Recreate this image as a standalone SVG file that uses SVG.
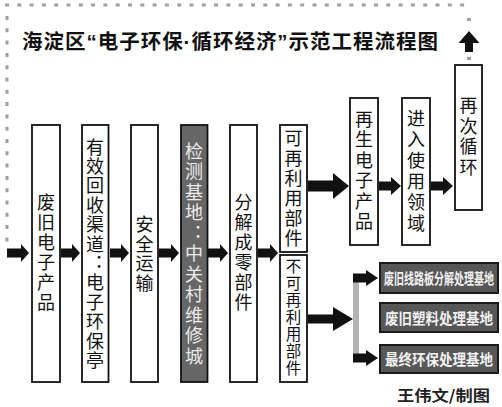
<svg xmlns="http://www.w3.org/2000/svg" width="502" height="407" viewBox="0 0 502 407">
<style>
.bx{fill:#fff;stroke:#111;stroke-width:1.8}
.dk{fill:#666;stroke:#111;stroke-width:1.8}
.db{fill:#575757;stroke:#1a1a1a;stroke-width:2}
.t{font-family:"Noto Sans CJK SC","Noto Sans CJK TC",sans-serif;font-size:18px;fill:#111;writing-mode:vertical-rl;text-orientation:upright}
.tw{fill:#ececec}
.ts{font-size:15.5px}
.dt{font-family:"Noto Sans CJK SC",sans-serif;font-weight:bold;fill:#f2f2f2;text-anchor:middle;dominant-baseline:central}
.ar{fill:#111}
.dot{stroke:#a0a0a0;stroke-width:3;fill:none;stroke-dasharray:4 8.3}
.lat{font-family:"Liberation Sans",sans-serif}
</style>
<rect width="502" height="407" fill="#fff"/>
<g id="border">
<line class="dot" x1="5" y1="5" x2="470" y2="5"/>
<line class="dot" x1="7" y1="16" x2="7" y2="242"/>
<rect x="467" y="18" width="4" height="3" fill="#a0a0a0"/>
<rect x="467" y="57" width="4" height="3" fill="#a0a0a0"/>
</g>
<text id="title" x="22" y="49" textLength="416" lengthAdjust="spacing" font-family="'Noto Sans CJK SC',sans-serif" font-size="20.5" font-weight="bold" fill="#111">海淀区<tspan class="lat">“</tspan>电子环保<tspan class="lat">·</tspan>循环经济<tspan class="lat">”</tspan>示范工程流程图</text>
<g id="n1"><rect class="bx" x="32" y="125" width="28" height="257"/>
<text class="t" x="46" y="193" letter-spacing="2">废旧电子产品</text></g>
<g id="n2"><rect class="bx" x="82" y="125" width="26.5" height="257"/>
<text class="t" x="95" y="137.7" letter-spacing="1.4">有效回收渠道︓电子环保亭</text></g>
<g id="n3"><rect class="bx" x="131" y="125" width="27" height="257"/>
<text class="t" x="144.5" y="215.5" letter-spacing="1.5">安全运输</text></g>
<g id="n4"><rect class="dk" x="181" y="125" width="26.5" height="257"/>
<text class="t tw" x="194" y="142" letter-spacing="2.5">检测基地︓中关村维修城</text></g>
<g id="n5"><rect class="bx" x="230" y="125" width="27" height="257"/>
<text class="t" x="243.5" y="193" letter-spacing="2">分解成零部件</text></g>
<g id="n6a"><rect class="bx" x="280" y="125" width="27" height="127"/>
<text class="t" x="293.5" y="129" letter-spacing="2">可再利用部件</text></g>
<g id="n6b"><rect class="bx" x="280" y="255" width="27" height="127"/>
<text class="t ts" x="293.5" y="258.75" letter-spacing="1.5">不可再利用部件</text></g>
<g id="n7"><rect class="bx" x="350" y="98" width="28" height="147"/>
<text class="t" x="364" y="110" letter-spacing="2.5">再生电子产品</text></g>
<g id="n8"><rect class="bx" x="402" y="98" width="28" height="147"/>
<text class="t" x="416" y="109" letter-spacing="3">进入使用领域</text></g>
<g id="n9"><rect class="bx" x="455" y="65" width="27" height="145"/>
<text class="t" x="468.5" y="96.5" letter-spacing="2.5">再次循环</text></g>
<g id="d1"><rect class="db" x="380" y="263" width="118" height="30"/>
<text class="dt" font-size="10" transform="translate(439 278) scale(1 1.5)">废旧线路板分解处理基地</text></g>
<g id="d2"><rect class="db" x="380" y="303" width="118" height="29"/>
<text class="dt" font-size="13.5" transform="translate(439 317.5) scale(1 1.1)">废旧塑料处理基地</text></g>
<g id="d3"><rect class="db" x="380" y="345" width="118" height="28"/>
<text class="dt" font-size="13.5" transform="translate(439 359) scale(1 1.1)">最终环保处理基地</text></g>
<g id="connectors">
<polygon class="ar" points="7,248.5 21,248.5 21,244 29,253 21,262 21,257.5 7,257.5"/>
<polygon class="ar" points="61,248.5 72,248.5 72,244 80,253 72,262 72,257.5 61,257.5"/>
<polygon class="ar" points="110,248.5 121,248.5 121,244 129,253 121,262 121,257.5 110,257.5"/>
<polygon class="ar" points="159,248.5 171,248.5 171,244 179,253 171,262 171,257.5 159,257.5"/>
<polygon class="ar" points="208,248.5 220,248.5 220,244 228,253 220,262 220,257.5 208,257.5"/>
<polygon class="ar" points="258,248.5 270,248.5 270,244 278,253 270,262 270,257.5 258,257.5"/>
<polygon class="ar" points="308,180.5 333,180.5 333,173 349,186 333,199 333,191.5 308,191.5"/>
<polygon class="ar" points="379,181.5 391,181.5 391,177 401,186 391,195 391,190.5 379,190.5"/>
<polygon class="ar" points="431,181.5 443,181.5 443,177 453,186 443,195 443,190.5 431,190.5"/>
<polygon class="ar" points="308,314.5 333,314.5 333,307 353,319 333,331 333,323.5 308,323.5"/>
<rect x="353" y="276" width="6" height="84" fill="#b3b3b3"/>
<polygon class="ar" points="353,273.5 366,273.5 366,270 378,278 366,286 366,282.5 353,282.5"/>
<polygon class="ar" points="353,353.5 366,353.5 366,350 378,358 366,366 366,362.5 353,362.5"/>
<polygon class="ar" points="469,31 479.5,43 473,43 473,52 465,52 465,43 458.5,43"/>
</g>
<text id="credit" x="397" y="401" textLength="93" lengthAdjust="spacingAndGlyphs" font-family="'Noto Sans CJK SC',sans-serif" font-size="15" font-weight="bold" fill="#222">王伟文/制图</text>
</svg>
